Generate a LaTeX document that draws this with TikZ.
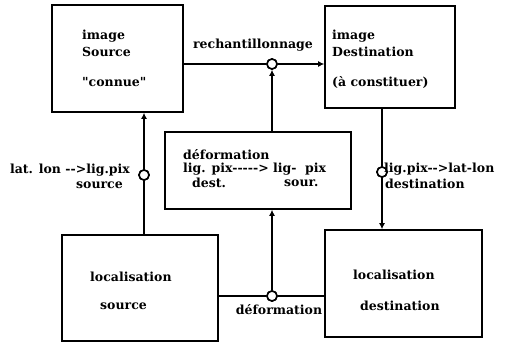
\documentclass[tikz,border=0pt]{standalone}
\usepackage{fontspec}
\setmainfont{DejaVu Serif}[Ligatures=TeXOff]
\usetikzlibrary{arrows.meta}
\begin{document}
\begin{tikzpicture}[x=1pt,y=-1pt,
  every node/.style={font=\fontsize{12.5}{14}\selectfont\bfseries, inner sep=0pt},
  blockbox/.style={draw, line width=1.6pt, inner sep=0pt},
  txt/.style={anchor=west},
  junction/.style={circle, draw, fill=white, line width=1.6pt, minimum size=10pt, inner sep=0pt},
  wire/.style={line width=1.6pt},
  feed/.style={wire, -{Latex[length=6pt,width=6pt]}}]
\useasboundingbox (0,0) rectangle (505,343);

% main blocks
\node[blockbox, minimum width=131pt, minimum height=107pt] (src) at (117.5,58.5) {};
\node[blockbox, minimum width=130pt, minimum height=102pt] (dst) at (390,57) {};
\node[blockbox, minimum width=186pt, minimum height=77pt] (def) at (258,170.5) {};
\node[blockbox, minimum width=156pt, minimum height=106pt] (locs) at (140,288) {};
\node[blockbox, minimum width=157pt, minimum height=107pt] (locd) at (403.5,283.5) {};

% block texts
\node[txt] (t1) at (82,36) {image};
\node[txt] (t2) at (82,52) {Source};
\node[txt] (t3) at (82,82) {"connue"};
\node[txt] (t4) at (332,36) {image};
\node[txt] (t5) at (332,52) {Destination};
\node[txt] (t6) at (332,82) {(à constituer)};
\node[txt] (t7) at (183,155) {déformation};
\node[txt] (t8) at (183,169) {lig. pix-----> lig-\ \ pix};
\node[txt] (t9) at (192,183) {dest.};
\node[txt] (t10) at (284,183) {sour.};
\node[txt] (t11) at (90,277) {localisation};
\node[txt] (t12) at (100,306) {source};
\node[txt] (t13) at (353,275) {localisation};
\node[txt] (t14) at (360,306) {destination};

% junctions
\node[junction] (jr) at (272,64) {};
\node[junction] (jl) at (144,175) {};
\node[junction] (jd) at (382,172) {};
\node[junction] (jb) at (272,296) {};

% connectors
\draw[wire] (src.east |- jr) -- (jr);
\draw[feed] (jr) -- (dst.west |- jr);
\draw[feed] (def.north -| jr) -- (jr.south);
\draw[feed] (locs.north -| jl) -- (src.south -| jl);
\draw[feed] (dst.south -| jd) -- (locd.north -| jd);
\draw[wire] (locs.east |- jb) -- (jb) -- (locd.west |- jb);
\draw[feed] (jb) -- (def.south -| jb);
% junction rings drawn over the wires
\node[junction] at (jr) {};
\node[junction] at (jl) {};
\node[junction] at (jd) {};
\node[junction] at (jb) {};

% connector labels
\node (l1) at (253,45) {rechantillonnage};
\node[anchor=east] (l2) at (130,170) {lat. lon -->lig.pix};
\node[anchor=east] (l3) at (123,185) {source};
\node[anchor=west] (l4) at (384,169) {lig.pix-->lat-lon};
\node[anchor=west] (l5) at (385,184) {destination};
\node (l6) at (279,310) {déformation};
\end{tikzpicture}
\end{document}
